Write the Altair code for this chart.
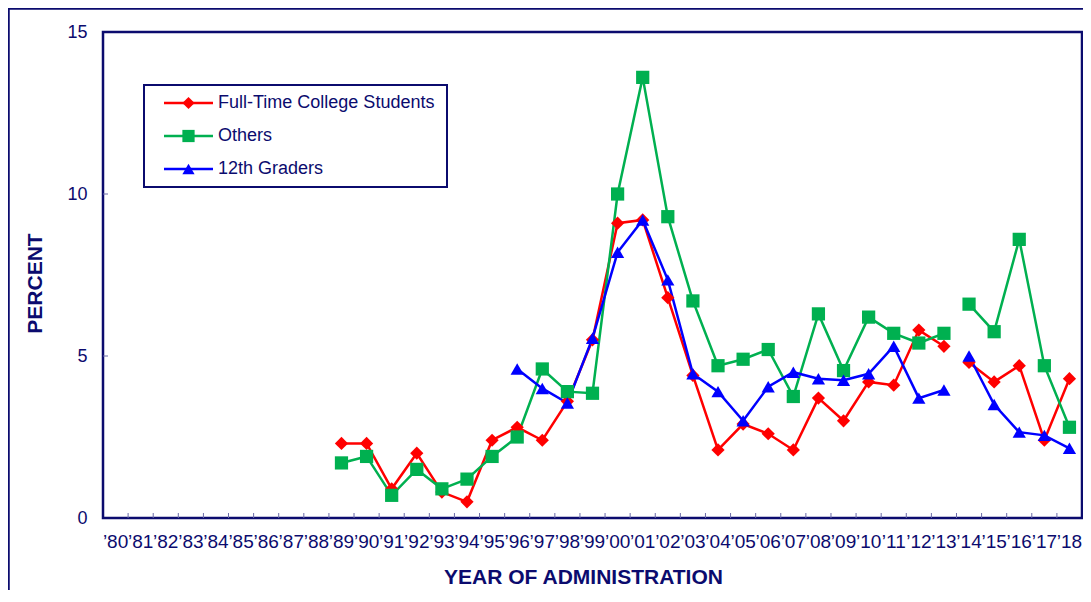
import altair as alt
import pandas as pd

# ---------------- data ----------------
years = list(range(1980, 2019))
labels = ["\u2019" + str(y)[2:] for y in years]

series = ["Full-Time College Students", "Others", "12th Graders"]
colors = ["#FF0000", "#00B050", "#0000FF"]
shapes = ["diamond", "square", "triangle-up"]

ft_years = list(range(1989, 2019))
ft_values = [2.3, 2.3, 0.9, 2.0, 0.8, 0.5, 2.4, 2.8, 2.4, 3.6,
             5.5, 9.1, 9.2, 6.8, 4.4, 2.1, 2.9, 2.6, 2.1, 3.7,
             3.0, 4.2, 4.1, 5.8, 5.3, 4.8, 4.2, 4.7, 2.4, 4.3]

oth_years = list(range(1989, 2019))
oth_values = [1.7, 1.9, 0.7, 1.5, 0.9, 1.2, 1.9, 2.5, 4.6, 3.9,
              3.85, 10.0, 13.6, 9.3, 6.7, 4.7, 4.9, 5.2, 3.75, 6.3,
              4.55, 6.2, 5.7, 5.4, 5.7, 6.6, 5.75, 8.6, 4.7, 2.8]

g12_years = list(range(1996, 2019))
g12_values = [4.6, 4.0, 3.55, 5.55, 8.2, 9.2, 7.35, 4.45, 3.9, 3.0,
              4.05, 4.5, 4.3, 4.25, 4.45, 5.3, 3.7, 3.95, 5.0, 3.5,
              2.65, 2.55, 2.15]

y_tick_values = [5, 10]
y_label_values = [0, 5, 10, 15]

break_year = 2014  # lines are not connected across 2013 -> 2014

rows = []
for name, yrs, vals in [(series[0], ft_years, ft_values),
                        (series[1], oth_years, oth_values),
                        (series[2], g12_years, g12_values)]:
    for y, v in zip(yrs, vals):
        rows.append({"series": name, "year": y, "label": "\u2019" + str(y)[2:],
                     "value": v, "seg": "a" if y < break_year else "b"})
df = pd.DataFrame(rows)

# ---------------- style ----------------
NAVY = "#0B0B6E"
TICK = "#6B6BA8"
FONT = "Liberation Sans"
W, H = 979, 486

x_scale = alt.Scale(type="band", domain=labels, paddingInner=0, paddingOuter=0)
y_scale = alt.Scale(domain=[0, 15], nice=False)
color_scale = alt.Scale(domain=series, range=colors)
shape_scale = alt.Scale(domain=series, range=shapes)

x_axis = alt.Axis(orient="bottom", ticks=False, tickSize=0, domain=False, grid=False,
                  labelAngle=0, labelOverlap=False, labelPadding=14,
                  labelFont=FONT, labelFontSize=19, labelColor=NAVY,
                  title="YEAR OF ADMINISTRATION", titleFont=FONT,
                  titleFontSize=21, titleFontWeight="bold", titleColor=NAVY,
                  titleX=480, titleY=59.5, titleAlign="center",
                  titleBaseline="middle")
y_axis = alt.Axis(orient="left", values=y_label_values, ticks=False,
                  tickSize=0, domain=False, grid=False, labelPadding=16,
                  labelFont=FONT, labelFontSize=18, labelColor=NAVY,
                  title="PERCENT", titleFont=FONT, titleFontSize=21,
                  titleFontWeight="bold", titleColor=NAVY, titleAngle=270,
                  titleX=-68, titleY=251, titleAlign="center",
                  titleBaseline="middle")


def xenc(**kw):
    return alt.X("label:O", scale=x_scale, sort=labels, axis=x_axis, **kw)


def yenc():
    return alt.Y("value:Q", scale=y_scale, axis=y_axis)


base = alt.Chart(df)

lines = base.mark_line(strokeWidth=2.5).encode(
    x=xenc(), y=yenc(),
    color=alt.Color("series:N", scale=color_scale, legend=None),
    detail="seg:N",
    order="year:Q",
)

points = base.mark_point(filled=True, size=175, opacity=1).encode(
    x=xenc(), y=yenc(),
    color=alt.Color("series:N", scale=color_scale, legend=None),
    shape=alt.Shape("series:N", scale=shape_scale, legend=None),
)

# inward tick marks (x: at category boundaries, y: at 5 and 10)
x_ticks = alt.Chart(pd.DataFrame({"label": labels[1:]})).mark_rule(
    color=TICK, strokeWidth=1
).encode(
    x=xenc(bandPosition=0),
    y=alt.value(H), y2=alt.value(H - 5),
)
y_ticks = alt.Chart(pd.DataFrame({"value": y_tick_values})).mark_rule(
    color=TICK, strokeWidth=1
).encode(
    y=yenc(),
    x=alt.value(0), x2=alt.value(5),
)

# outer frame of the whole figure
border = alt.Chart(pd.DataFrame({"k": [0]})).mark_rect(
    filled=False, stroke=NAVY, strokeWidth=2.5
).encode(
    x=alt.value(-94.5), x2=alt.value(W + 60),
    y=alt.value(-23.5), y2=alt.value(H + 200),
)

# legend box (drawn by hand: line + marker + label per series)
LX0, LX1, LY0, LY1 = 41, 344, 53, 155
ROW0, ROWSTEP = 71, 33
one = pd.DataFrame({"k": [0]})
legend_layers = [
    alt.Chart(one).mark_rect(filled=False, stroke=NAVY, strokeWidth=2).encode(
        x=alt.value(LX0), x2=alt.value(LX1), y=alt.value(LY0), y2=alt.value(LY1))
]
for i, (s, c, sh) in enumerate(zip(series, colors, shapes)):
    yy = ROW0 + i * ROWSTEP
    legend_layers.append(
        alt.Chart(one).mark_rule(color=c, strokeWidth=2.5).encode(
            x=alt.value(61), x2=alt.value(110), y=alt.value(yy)))
    legend_layers.append(
        alt.Chart(one).mark_point(filled=True, size=150, opacity=1, color=c,
                                  shape=sh).encode(
            x=alt.value(85.5), y=alt.value(yy)))
    legend_layers.append(
        alt.Chart(pd.DataFrame({"t": [s]})).mark_text(
            align="left", baseline="middle", font=FONT, fontSize=18, color=NAVY
        ).encode(x=alt.value(115), y=alt.value(yy), text="t:N"))

chart = alt.layer(border, x_ticks, y_ticks, lines, points, *legend_layers).properties(
    width=W, height=H,
    autosize=alt.AutoSizeParams(type="none"),
    padding={"left": 95, "top": 24, "right": 1, "bottom": 72},
).configure(
    font=FONT,
    view=alt.ViewConfig(stroke=NAVY, strokeWidth=2.5),
)

chart.save("out.html", embed_options={"renderer": "svg", "actions": False})
